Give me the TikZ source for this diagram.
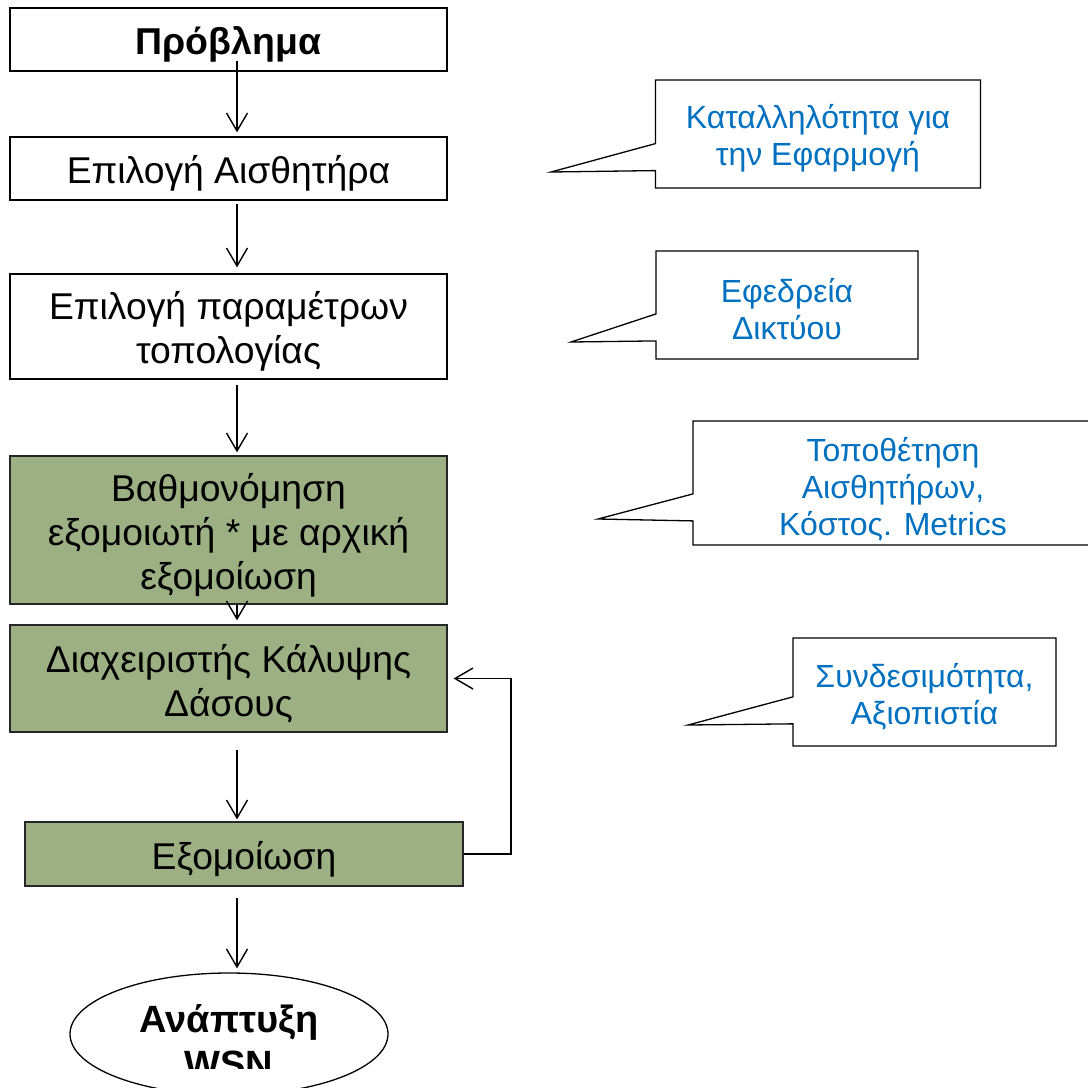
\documentclass[tikz,border=0pt]{standalone}
\usepackage{fontspec}
\setmainfont{Liberation Sans}
\usetikzlibrary{arrows.meta,shapes.geometric,shapes.callouts,calc}
\definecolor{boxgreen}{RGB}{157,176,131}
\definecolor{noteblue}{RGB}{0,112,192}
\begin{document}
\begin{tikzpicture}[x=1pt,y=-1pt,
  stage/.style={draw=black, line width=1.3pt, fill=white, rectangle, inner sep=0pt,
    minimum width=437pt},
  greenstage/.style={stage, fill=boxgreen, draw=black!85},
  stagetext/.style={align=center, inner sep=0pt, yshift=-5pt, font=\fontsize{37.3}{44}\selectfont},
  note/.style={rectangle callout, draw=black, line width=1.3pt, fill=white, inner sep=0pt,
    callout pointer width=27pt},
  notetext/.style={align=center, inner sep=0pt, yshift=-4.5pt, text=noteblue,
    font=\fontsize{32}{37}\selectfont},
  flow/.style={line width=1.4pt, -{Straight Barb[length=18pt,width=21pt,line width=1.4pt]}}
]
\useasboundingbox (0,0) rectangle (1088,1088);
\clip (0,0) rectangle (1088,1088);
\fill[white] (0,0) rectangle (1088,1088);

% main flow: boxes
\node[stage, minimum height=63pt] (p) at (228.5,39.5) {};
\node[stage, minimum height=63pt] (s) at (228.5,168.5) {};
\node[stage, minimum height=105pt] (t) at (228.5,326.5) {};
\node[greenstage, minimum height=148pt] (v) at (228.5,530) {};
\node[greenstage, minimum height=107pt] (d) at (228.5,678.5) {};
\node[greenstage, minimum width=438pt, minimum height=64pt] (e) at (244,854) {};
\node[draw, ellipse, line width=1.3pt, fill=white, minimum width=318pt, minimum height=122pt, inner sep=0pt] (w) at (229,1034) {};

% main flow: texts
\node[stagetext, font=\bfseries\fontsize{37.4}{44}\selectfont] (pt) at (p.center) {Πρόβλημα};
\node[stagetext] (st) at (s.center) {Επιλογή Αισθητήρα};
\node[stagetext] (tt) at (t.center) {Επιλογή παραμέτρων\\τοπολογίας};
\node[stagetext] (vt) at (v.center) {Βαθμονόμηση\\εξομοιωτή * με αρχική\\εξομοίωση};
\node[stagetext] (dt) at (d.center) {Διαχειριστής Κάλυψης\\Δάσους};
\node[stagetext] (et) at (e.center) {Εξομοίωση};
% the ellipse label overflows its text frame and is cut at the frame's lower edge
\begin{scope}
  \clip (0,0) rectangle (1088,1068);
  \node[anchor=base, align=center, inner sep=0pt, font=\bfseries\fontsize{38}{45}\selectfont] (wt) at ($(w.center)+(0,43)$) {Ανάπτυξη\\WSN};
\end{scope}

% connectors
\coordinate (ax) at (237,0);
\coordinate (fb) at (511,0);
\draw[flow, shorten <=-11pt, shorten >=4pt] (p.south -| ax) -- (s.north -| ax);
\draw[flow, shorten <=3pt, shorten >=6pt] (s.south -| ax) -- (t.north -| ax);
\draw[flow, shorten <=5pt, shorten >=3pt] (t.south -| ax) -- (v.north -| ax);
\draw[flow, shorten >=4pt] (v.south -| ax) -- (d.north -| ax);
\draw[flow, shorten <=17pt, shorten >=2pt] (d.south -| ax) -- (e.north -| ax);
\draw[flow, shorten <=11pt, shorten >=4pt] (e.south -| ax) -- (w.north -| ax);
\draw[flow, shorten >=6pt] (e.east) -- (e.east -| fb) -- (d.east -| fb) -- (d.east);

% notes
\node[note, minimum width=325pt, minimum height=108pt, callout absolute pointer={(551,172)}] (n1) at (818,134) {};
\node[note, minimum width=262pt, minimum height=108pt, callout absolute pointer={(571,342)}] (n2) at (787,305) {};
\node[note, minimum width=402pt, minimum height=124pt, callout absolute pointer={(598,519)}] (n3) at (894,483) {};
\node[note, minimum width=263pt, minimum height=108pt, callout absolute pointer={(688,725)}] (n4) at (924.5,692) {};
\node[notetext] (n1t) at (n1.center) {Καταλληλότητα για\\την Εφαρμογή};
\node[notetext] (n2t) at (n2.center) {Εφεδρεία\\Δικτύου};
\node[notetext, yshift=-1.5pt, xshift=-1pt] (n3t) at (n3.center) {Τοποθέτηση\\Αισθητήρων,\\Κόστος. Metrics};
\node[notetext] (n4t) at (n4.center) {Συνδεσιμότητα,\\Αξιοπιστία};
\end{tikzpicture}
\end{document}
